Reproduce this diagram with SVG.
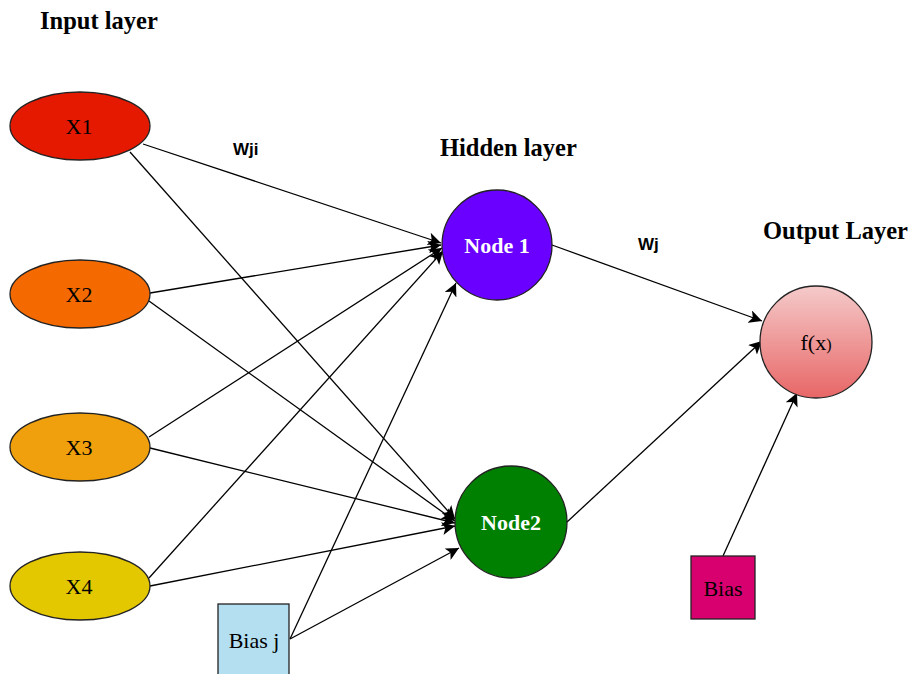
<svg xmlns="http://www.w3.org/2000/svg" width="913" height="674" viewBox="0 0 913 674">
<style>
.title{font-family:"Liberation Serif",serif;font-weight:bold;font-size:24.5px;fill:#000}
.lbl{font-family:"Liberation Serif",serif;font-size:22px;fill:#000;text-anchor:middle}
.wl{font-family:"Liberation Sans",sans-serif;font-weight:bold;font-size:17px;fill:#000}
.nl{font-family:"Liberation Serif",serif;font-weight:bold;font-size:22px;fill:#fff;text-anchor:middle}
.sh{stroke:#222;stroke-width:1.3}
.e{stroke:#000;stroke-width:1.3;fill:none;marker-end:url(#ah)}
</style>
<defs>
<marker id="ah" viewBox="0 0 10 10" refX="10" refY="5" markerWidth="13" markerHeight="13" markerUnits="userSpaceOnUse" orient="auto">
<path d="M0,0 L10,5 L0,10 L2.5,5 Z" fill="#000"/>
</marker>
<linearGradient id="g" x1="0" y1="0" x2="0" y2="1">
<stop offset="0" stop-color="#f5caca"/>
<stop offset="1" stop-color="#e86666"/>
</linearGradient>
</defs>
<rect width="913" height="674" fill="#fff"/>
<text class="title" x="40" y="29">Input layer</text>
<text class="title" x="440" y="156">Hidden layer</text>
<text class="title" x="763" y="239">Output Layer</text>
<text class="wl" x="233" y="155">Wji</text>
<text class="wl" x="638" y="250">Wj</text>
<g id="connectors">
<line class="e" x1="143" y1="144" x2="441" y2="243"/>
<line class="e" x1="130" y1="152" x2="455" y2="519"/>
<line class="e" x1="150" y1="293" x2="441" y2="245"/>
<line class="e" x1="149" y1="301" x2="455" y2="521"/>
<line class="e" x1="149" y1="437" x2="442" y2="248"/>
<line class="e" x1="150" y1="448" x2="455" y2="523"/>
<line class="e" x1="149" y1="578" x2="443" y2="251"/>
<line class="e" x1="150" y1="586" x2="455" y2="526"/>
<line class="e" x1="290" y1="639" x2="456" y2="283"/>
<line class="e" x1="290" y1="639" x2="459" y2="548"/>
<line class="e" x1="552" y1="245" x2="762" y2="321"/>
<line class="e" x1="567" y1="522" x2="762" y2="341"/>
<line class="e" x1="723" y1="556" x2="797" y2="393"/>
</g>
<g id="x1"><ellipse class="sh" cx="80" cy="126" rx="70" ry="34" fill="#e51900"/><text class="lbl" x="79" y="134">X1</text></g>
<g id="x2"><ellipse class="sh" cx="80" cy="294" rx="70" ry="34" fill="#f56a00"/><text class="lbl" x="79" y="302">X2</text></g>
<g id="x3"><ellipse class="sh" cx="80" cy="447" rx="70" ry="34" fill="#f0a00c"/><text class="lbl" x="79" y="455">X3</text></g>
<g id="x4"><ellipse class="sh" cx="80" cy="586" rx="70" ry="34" fill="#e3c800"/><text class="lbl" x="79" y="594">X4</text></g>
<g id="node1"><circle class="sh" cx="497" cy="245" r="55" fill="#6a00ff"/><text class="nl" x="497" y="253">Node 1</text></g>
<g id="node2"><circle class="sh" cx="511" cy="522" r="56" fill="#008000"/><text class="nl" x="511" y="530">Node2</text></g>
<g id="fx"><circle class="sh" cx="816" cy="342" r="56" fill="url(#g)"/><text class="lbl" x="816" y="350">f(x<tspan font-size="16">)</tspan></text></g>
<g id="biasj"><rect class="sh" x="218" y="604" width="71" height="76" fill="#b3dff0"/><text class="lbl" x="254" y="648">Bias j</text></g>
<g id="bias"><rect class="sh" x="691" y="556" width="64" height="63" fill="#d8006e"/><text class="lbl" x="723" y="596">Bias</text></g>
</svg>
